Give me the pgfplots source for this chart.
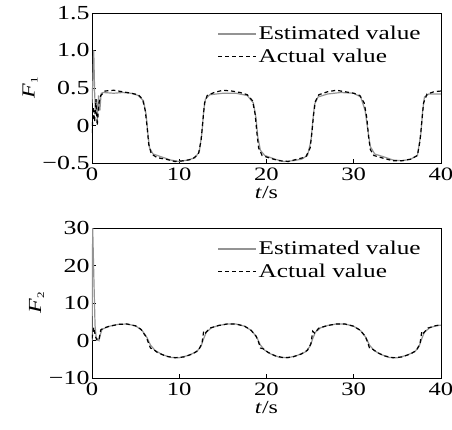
\documentclass[border=0pt]{standalone}
\usepackage{fontspec}
\setmainfont{Liberation Serif}[FakeStretch=1.3]
\usepackage{pgfplots}
\pgfplotsset{compat=1.18}

\pgfplotstableread{
t F
0 0.3
0.1 0.6
0.2 1.0
0.3 0.45
0.4 0.15
0.5 0.35
0.6 0.08
0.75 0.4
0.9 0.2
1.05 0.43
1.3 0.44
2.5 0.43
3.5 0.44
4.5 0.43
5.3 0.40
5.9 0.33
6.2 0.15
6.4 -0.1
6.6 -0.3
7.0 -0.38
8 -0.42
9 -0.46
10 -0.48
11 -0.46
11.8 -0.43
12.3 -0.35
12.6 -0.1
12.8 0.2
13.0 0.35
13.5 0.41
15 0.43
16.5 0.43
17.8 0.40
18.5 0.3
18.8 0.1
19.0 -0.15
19.3 -0.33
19.8 -0.4
21 -0.45
22 -0.48
23 -0.47
24 -0.45
24.7 -0.4
25.1 -0.2
25.3 0.05
25.5 0.28
25.9 0.38
27 0.42
28.5 0.44
30 0.43
30.8 0.38
31.3 0.2
31.6 -0.05
31.9 -0.28
32.4 -0.38
33.5 -0.42
34.5 -0.46
35.5 -0.47
36.5 -0.45
37.3 -0.4
37.7 -0.1
37.9 0.2
38.1 0.38
38.6 0.42
40 0.42
}\estA

\pgfplotstableread{
t F
0 -0.1
0.15 0.25
0.3 0.05
0.45 0.35
0.6 0.0
0.8 0.3
1.0 0.4
1.5 0.46
2.5 0.47
3.5 0.45
4.5 0.43
5.3 0.41
5.8 0.35
6.1 0.2
6.3 0.0
6.5 -0.25
6.8 -0.38
7.5 -0.43
8.5 -0.45
9.5 -0.48
10.5 -0.47
11.5 -0.45
12.2 -0.38
12.5 -0.2
12.7 0.05
12.9 0.3
13.2 0.4
14 0.44
15 0.47
16 0.46
17 0.44
17.8 0.41
18.4 0.33
18.7 0.15
18.9 -0.1
19.1 -0.3
19.5 -0.4
20.5 -0.44
21.5 -0.47
22.5 -0.48
23.5 -0.45
24.5 -0.42
25.0 -0.3
25.2 -0.1
25.4 0.15
25.6 0.32
26 0.41
27 0.45
28 0.47
29 0.45
30 0.43
30.7 0.4
31.2 0.3
31.5 0.1
31.7 -0.15
31.9 -0.32
32.3 -0.4
33.5 -0.44
34.5 -0.47
35.5 -0.47
36.5 -0.45
37.3 -0.4
37.6 -0.2
37.8 0.05
38.0 0.3
38.4 0.42
39.2 0.45
40 0.46
}\actA

\pgfplotstableread{
t F
0 0
0.08 30
0.2 18
0.35 4
0.5 0.3
0.65 0.5
0.8 0.0
0.95 1.5
1.15 3.0
2 3.8
3 4.3
4 4.4
5 3.9
5.7 2.8
6.3 0.8
6.7 -1.2
7.2 -2.6
8 -3.7
9 -4.5
10 -4.6
11 -4.0
12 -3.0
12.5 -1.5
12.8 0.5
13.1 2.2
13.7 3.4
14.5 4.0
15.5 4.4
16.5 4.4
17.5 3.8
18.3 2.6
18.9 0.8
19.3 -1.2
19.8 -2.6
20.5 -3.6
21.5 -4.5
22.5 -4.6
23.5 -4.0
24.5 -3.0
25 -1.5
25.3 0.5
25.6 2.2
26.2 3.4
27 4.0
28 4.4
29 4.4
30 3.8
30.8 2.6
31.4 0.8
31.8 -1.2
32.3 -2.6
33 -3.6
34 -4.5
35 -4.6
36 -4.0
37 -3.0
37.5 -1.5
37.8 0.5
38.1 2.2
38.7 3.4
39.4 3.9
40 4.1
}\estB

\pgfplotstableread{
t F
0 0.5
0.2 3.5
0.4 1.0
0.6 0.0
0.8 0.2
1.0 2.8
1.3 3.3
2 3.8
3 4.3
4 4.4
5 3.9
5.6 3.0
6.2 1.0
6.5 -0.8
6.7 -2.0
7.0 -2.3
7.5 -3.2
8.5 -4.2
9.5 -4.6
10.5 -4.4
11.5 -3.6
12.2 -2.6
12.6 -0.8
12.8 2.5
13.0 2.0
13.5 3.3
14.5 4.0
15.5 4.4
16.5 4.4
17.5 3.8
18.2 2.8
18.8 1.2
19.1 -0.5
19.3 -2.0
19.6 -2.2
20.2 -3.2
21 -4.1
22 -4.6
23 -4.4
24 -3.6
24.7 -2.6
25.1 -0.8
25.3 2.5
25.5 2.0
26 3.3
27 4.0
28 4.4
29 4.4
30 3.8
30.7 2.8
31.3 1.2
31.6 -0.5
31.8 -2.0
32.1 -2.2
32.7 -3.2
33.5 -4.1
34.5 -4.6
35.5 -4.4
36.5 -3.6
37.2 -2.6
37.6 -0.8
37.8 2.5
38.0 2.0
38.5 3.3
39.3 3.9
40 4.2
}\actB

\pgfplotsset{
  panel/.style={
    scale only axis, width=349bp, height=150bp,
    xmin=0, xmax=40,
    xtick={0,10,20,30,40}, xticklabels={0,10,20,30,40},
    tick align=inside, xtick pos=bottom, ytick pos=left,
    major tick length=4bp,
    axis line style={line width=1pt},
    every tick/.style={black, line width=0.8pt},
    xticklabel style={font=\fontsize{19}{19}\selectfont, yshift=-1bp},
    yticklabel style={font=\fontsize{20}{20}\selectfont, xshift=1bp},
    label style={font=\fontsize{18.5}{18.5}\selectfont},
    xlabel={\textit{t}/s},
    xlabel style={yshift=1bp},
    legend style={at={(rel axis cs:0.948,0.925)}, anchor=north east,
      draw=none, fill=none, font=\fontsize{19.5}{19.5}\selectfont,
      row sep=4bp, inner sep=0pt},
    legend cell align=left,
    legend image code/.code={\draw[##1] (0bp,0bp) -- (38bp,0bp);},
  },
  est/.style={gray!85, line width=1.2pt},
  act/.style={black, line width=1.2pt, dash pattern=on 4bp off 3bp},
}

\begin{document}
\begin{tikzpicture}
\useasboundingbox (-92bp,-267bp) rectangle (360bp,163bp);
\begin{axis}[panel, at={(0,0)}, anchor=south west,
  ymin=-0.5, ymax=1.5,
  ytick={-0.5,0,0.5,1,1.5},
  yticklabels={−0.5,0,0.5,1.0,1.5},
  ylabel={\textit{F}\raisebox{-0.35ex}{\fontsize{10}{10}\selectfont 1}},
  ylabel style={yshift=-2bp}]
\addplot[est] table[x=t, y=F] {\estA};
\addlegendentry{Estimated value}
\addplot[act] table[x=t, y=F] {\actA};
\addlegendentry{Actual value}
\end{axis}
\begin{axis}[panel, at={(0,-215bp)}, anchor=south west,
  ymin=-10, ymax=30,
  ytick={-10,0,10,20,30},
  yticklabels={−10,0,10,20,30},
  ylabel={\textit{F}\raisebox{-0.35ex}{\fontsize{10}{10}\selectfont 2}},
  ylabel style={yshift=-2bp}]
\addplot[est] table[x=t, y=F] {\estB};
\addlegendentry{Estimated value}
\addplot[act] table[x=t, y=F] {\actB};
\addlegendentry{Actual value}
\end{axis}
\end{tikzpicture}
\end{document}
